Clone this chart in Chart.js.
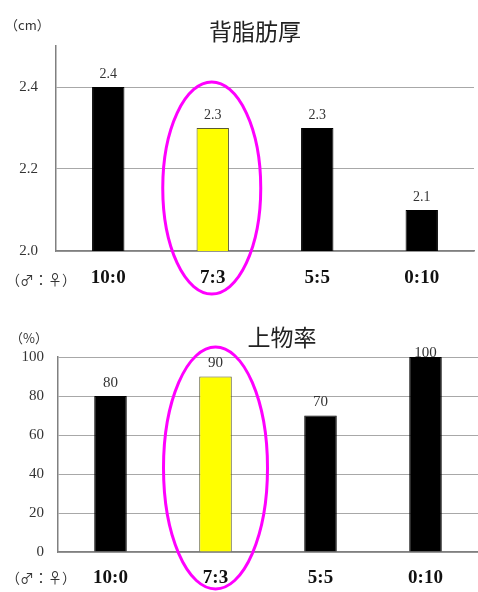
<!DOCTYPE html>
<html>
<head>
<meta charset="utf-8">
<script src="https://cdn.jsdelivr.net/npm/chart.js@4"></script>
<style>
  html, body { margin: 0; padding: 0; background: #fff; }
  .box { position: absolute; left: 0; width: 478px; }
  #top { top: 0; height: 300px; }
  #bottom { top: 300px; height: 292px; }
</style>
</head>
<body>
<div class="box" id="top"><canvas id="fatChart" width="478" height="300"></canvas></div>
<div class="box" id="bottom"><canvas id="rateChart" width="478" height="292"></canvas></div>
<script>
// data
const categories = ["10:0", "7:3", "5:5", "0:10"];
const fatValues = [2.4, 2.3, 2.3, 2.1];
const rateValues = [80, 90, 70, 100];
const fatTicks = [2.0, 2.2, 2.4];
const rateTicks = [0, 20, 40, 60, 80, 100];
const barColors = ["#000000", "#ffff00", "#000000", "#000000"];

const serif = "'Liberation Serif', 'Noto Sans CJK JP', serif";
const gothic = "'Noto Sans CJK JP', sans-serif";

// titles, unit labels, value labels and the magenta ring
const decor = {
  id: "decor",
  afterDraw(chart, args, o) {
    const ctx = chart.ctx;
    const x = chart.scales.x;
    const meta = chart.getDatasetMeta(0);
    ctx.save();
    ctx.fillStyle = "#222";
    ctx.textAlign = "center";
    ctx.textBaseline = "middle";
    ctx.font = "23px " + gothic;
    ctx.fillText(o.title, o.titleX, o.titleY);

    ctx.textAlign = "left";
    ctx.fillStyle = "#333";
    ctx.font = "13px " + gothic;
    ctx.fillText(o.unit, o.unitX, o.unitY);
    ctx.font = "14px " + gothic;
    ctx.fillText("（♂：♀）", 6, o.sexY);

    ctx.textAlign = "center";
    ctx.font = o.valueFont + "px " + serif;
    meta.data.forEach((bar, i) => {
      const v = chart.data.datasets[0].data[i];
      const y = Math.max(bar.y - 13, chart.chartArea.top - 4);
      ctx.fillText(o.fmt(v), bar.x, y);
    });

    ctx.strokeStyle = "#ff00ff";
    ctx.lineWidth = 3;
    ctx.beginPath();
    ctx.ellipse(x.getPixelForValue(1) + o.ring.dx, o.ring.cy, o.ring.rx, o.ring.ry, 0, 0, Math.PI * 2);
    ctx.stroke();
    ctx.restore();
  }
};

function makeChart(id, values, ticks, cfg) {
  return new Chart(document.getElementById(id), {
    type: "bar",
    data: {
      labels: categories,
      datasets: [{
        data: values,
        backgroundColor: barColors,
        borderColor: ["#000000", "#5a5a30", "#000000", "#000000"],
        borderWidth: 1,
        barPercentage: 0.31,
        categoryPercentage: 1
      }]
    },
    options: {
      responsive: false,
      animation: false,
      layout: { padding: cfg.padding },
      plugins: {
        legend: { display: false },
        tooltip: { enabled: false },
        decor: cfg.decor
      },
      scales: {
        x: {
          grid: { display: false, drawTicks: false },
          border: { color: "#808080", width: 1.5 },
          ticks: {
            color: "#111",
            padding: cfg.xPad,
            font: { family: serif, size: 19, weight: "bold" }
          },
          afterFit(s) { s.height = cfg.xHeight; }
        },
        y: {
          min: cfg.min,
          max: cfg.max,
          afterBuildTicks(s) { s.ticks = ticks.map(v => ({ value: v })); },
          grid: { color: "#a8a8a8", lineWidth: 1, drawTicks: false },
          border: { color: "#808080", width: 1.5 },
          ticks: {
            color: "#333",
            padding: cfg.yPad,
            font: { family: serif, size: 15 },
            callback: cfg.fmt
          },
          afterFit(s) { s.width = cfg.yWidth; }
        }
      }
    },
    plugins: [decor]
  });
}

makeChart("fatChart", fatValues, fatTicks, {
  padding: { top: 46, right: 4, bottom: 0, left: 0 },
  min: 2.0, max: 2.5,
  xHeight: 49, xPad: 16, yWidth: 56, yPad: 18,
  fmt: v => Number(v).toFixed(1),
  decor: {
    title: "背脂肪厚", titleX: 255, titleY: 31,
    unit: "（cm）", unitX: 5, unitY: 25,
    sexY: 280, valueFont: 14,
    fmt: v => v.toFixed(1),
    ring: { dx: -1, cy: 188, rx: 49, ry: 106 }
  }
});

makeChart("rateChart", rateValues, rateTicks, {
  padding: { top: 57, right: 0, bottom: 0, left: 0 },
  min: 0, max: 100,
  xHeight: 40, xPad: 15, yWidth: 58, yPad: 14,
  fmt: v => String(v),
  decor: {
    title: "上物率", titleX: 282, titleY: 37,
    unit: "（%）", unitX: 10, unitY: 38,
    sexY: 278, valueFont: 15,
    fmt: v => String(v),
    ring: { dx: 0, cy: 168, rx: 52, ry: 121 }
  }
});
</script>
</body>
</html>
